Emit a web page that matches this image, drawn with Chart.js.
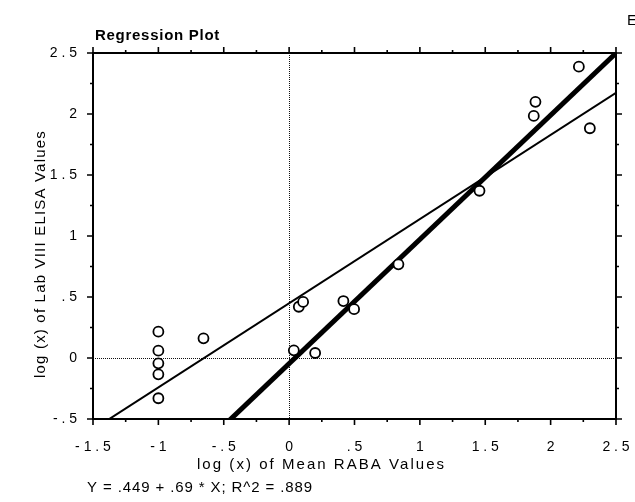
<!DOCTYPE html>
<html>
<head>
<meta charset="utf-8">
<script src="https://cdn.jsdelivr.net/npm/chart.js@4.4.0/dist/chart.umd.min.js"></script>
<style>
  html, body { margin: 0; padding: 0; background: #fff; }
</style>
</head>
<body>
<canvas id="myChart" width="635" height="502"></canvas>
<script>
// setup - values
const meanRaba = [-1, -1, -1, -1, -1, -0.655, 0.036, 0.074, 0.107, 0.199, 0.415, 0.497, 0.836, 1.456, 1.871, 1.884, 2.216, 2.30];
const labElisa = [0.216, 0.06, -0.044, -0.134, -0.33, 0.161, 0.063, 0.42, 0.46, 0.041, 0.467, 0.40, 0.768, 1.371, 1.984, 2.10, 2.388, 1.883];

// regression line (from caption) and the heavy reference line
const fitLine = { intercept: 0.449, slope: 0.69 };
const refLine = { intercept: -0.046, slope: 1.018 };

const xRange = [-1.5, 2.5];
const yRange = [-0.5, 2.5];
const majorStep = 0.5;
const minorStep = 0.25;

const titleText = 'Regression Plot';
const xTitle = 'log (x) of Mean RABA Values';
const yTitle = 'log (x) of Lab VIII ELISA Values';
const captionText = 'Y = .449 + .69 * X; R^2 = .889';
const FONT = '"Liberation Sans", Arial, Helvetica, sans-serif';

const points = meanRaba.map((x, i) => ({ x: x, y: labElisa[i] }));
const lineFrom = (l) => xRange.map(x => ({ x: x, y: l.intercept + l.slope * x }));

// tick label like "- 1 . 5"
function spacedLabel(v) {
    let s = String(Math.round(v * 100) / 100);
    s = s.replace(/^0\./, '.').replace(/^-0\./, '-.');
    return s.split('').join(' ');
}

// draw text stretched (letter spacing) to a given width, starting at x
function wideText(ctx, text, x, y, width) {
    ctx.letterSpacing = '0px';
    const w = ctx.measureText(text).width;
    const sp = Math.max(0, (width - w) / text.length);
    ctx.letterSpacing = sp.toFixed(2) + 'px';
    ctx.textAlign = 'left';
    ctx.fillText(text, x, y);
    ctx.letterSpacing = '0px';
}

// frame, outward ticks, zero lines and texts
const framePlugin = {
    id: 'frame',
    beforeDatasetsDraw(chart) {
        const { ctx, chartArea: a, scales: { x, y } } = chart;
        ctx.save();
        ctx.strokeStyle = '#111';
        ctx.lineWidth = 1;
        ctx.setLineDash([1, 1]);
        const x0 = Math.round(x.getPixelForValue(0)) + 0.5;
        const y0 = Math.round(y.getPixelForValue(0)) + 0.5;
        ctx.beginPath();
        ctx.moveTo(x0, a.top); ctx.lineTo(x0, a.bottom);
        ctx.moveTo(a.left, y0); ctx.lineTo(a.right, y0);
        ctx.stroke();
        ctx.restore();
    },
    afterDraw(chart) {
        const { ctx, chartArea: a, scales: { x, y } } = chart;
        ctx.save();
        ctx.strokeStyle = '#000';
        ctx.lineWidth = 2;
        ctx.strokeRect(a.left, a.top, a.right - a.left, a.bottom - a.top);

        ctx.lineWidth = 1.6;
        ctx.beginPath();
        const nx = Math.round((xRange[1] - xRange[0]) / minorStep);
        for (let i = 0; i <= nx; i++) {
            const v = xRange[0] + i * minorStep;
            const len = (i % 2 === 0) ? 6 : 3;
            const px = x.getPixelForValue(v);
            ctx.moveTo(px, a.bottom); ctx.lineTo(px, a.bottom + len);
            ctx.moveTo(px, a.top); ctx.lineTo(px, a.top - len);
        }
        const ny = Math.round((yRange[1] - yRange[0]) / minorStep);
        for (let i = 0; i <= ny; i++) {
            const v = yRange[0] + i * minorStep;
            const len = (i % 2 === 0) ? 6 : 3;
            const py = y.getPixelForValue(v);
            ctx.moveTo(a.left, py); ctx.lineTo(a.left - len, py);
            ctx.moveTo(a.right, py); ctx.lineTo(a.right + len, py);
        }
        ctx.stroke();

        ctx.fillStyle = '#000';
        ctx.textBaseline = 'alphabetic';
        ctx.font = 'bold 15px ' + FONT;
        wideText(ctx, titleText, 95, 40, 125);

        ctx.font = '15px ' + FONT;
        ctx.textAlign = 'left';
        ctx.fillText('E', 627, 25);
        wideText(ctx, captionText, 87, 492, 226);
        wideText(ctx, xTitle, 197, 469, 249);

        ctx.translate(45, 254);
        ctx.rotate(-Math.PI / 2);
        wideText(ctx, yTitle, -124, 0, 248);
        ctx.restore();
    }
};

// config
const config = {
    type: 'scatter',
    data: {
        datasets: [
            {
                label: 'Observations',
                data: points,
                pointStyle: 'circle',
                pointRadius: 5,
                pointHoverRadius: 5,
                borderWidth: 1.8,
                borderColor: '#000',
                backgroundColor: '#fff'
            },
            {
                type: 'line',
                label: 'Fit',
                data: lineFrom(fitLine),
                borderColor: '#000',
                borderWidth: 2,
                pointRadius: 0,
                fill: false
            },
            {
                type: 'line',
                label: 'Reference',
                data: lineFrom(refLine),
                borderColor: '#000',
                borderWidth: 5,
                pointRadius: 0,
                fill: false
            }
        ]
    },
    options: {
        responsive: false,
        animation: false,
        layout: { padding: { top: 53, right: 19, left: 0, bottom: 0 } },
        plugins: {
            legend: { display: false },
            tooltip: { enabled: false },
            title: { display: false }
        },
        scales: {
            x: {
                type: 'linear',
                min: xRange[0],
                max: xRange[1],
                grid: { display: false, drawTicks: false },
                border: { display: false },
                ticks: {
                    stepSize: majorStep,
                    autoSkip: false,
                    maxRotation: 0,
                    padding: 20,
                    color: '#000',
                    font: { size: 14, family: FONT },
                    callback: (v) => spacedLabel(v)
                },
                afterFit: (s) => { s.height = 83; s.paddingLeft = 0; s.paddingRight = 0; }
            },
            y: {
                type: 'linear',
                min: yRange[0],
                max: yRange[1],
                grid: { display: false, drawTicks: false },
                border: { display: false },
                ticks: {
                    stepSize: majorStep,
                    autoSkip: false,
                    padding: 16,
                    color: '#000',
                    font: { size: 14, family: FONT },
                    callback: (v) => spacedLabel(v)
                },
                afterFit: (s) => { s.width = 93; s.paddingTop = 0; s.paddingBottom = 0; }
            }
        }
    },
    plugins: [framePlugin]
};

// render init block
const myChart = new Chart(document.getElementById('myChart'), config);
</script>
</body>
</html>
